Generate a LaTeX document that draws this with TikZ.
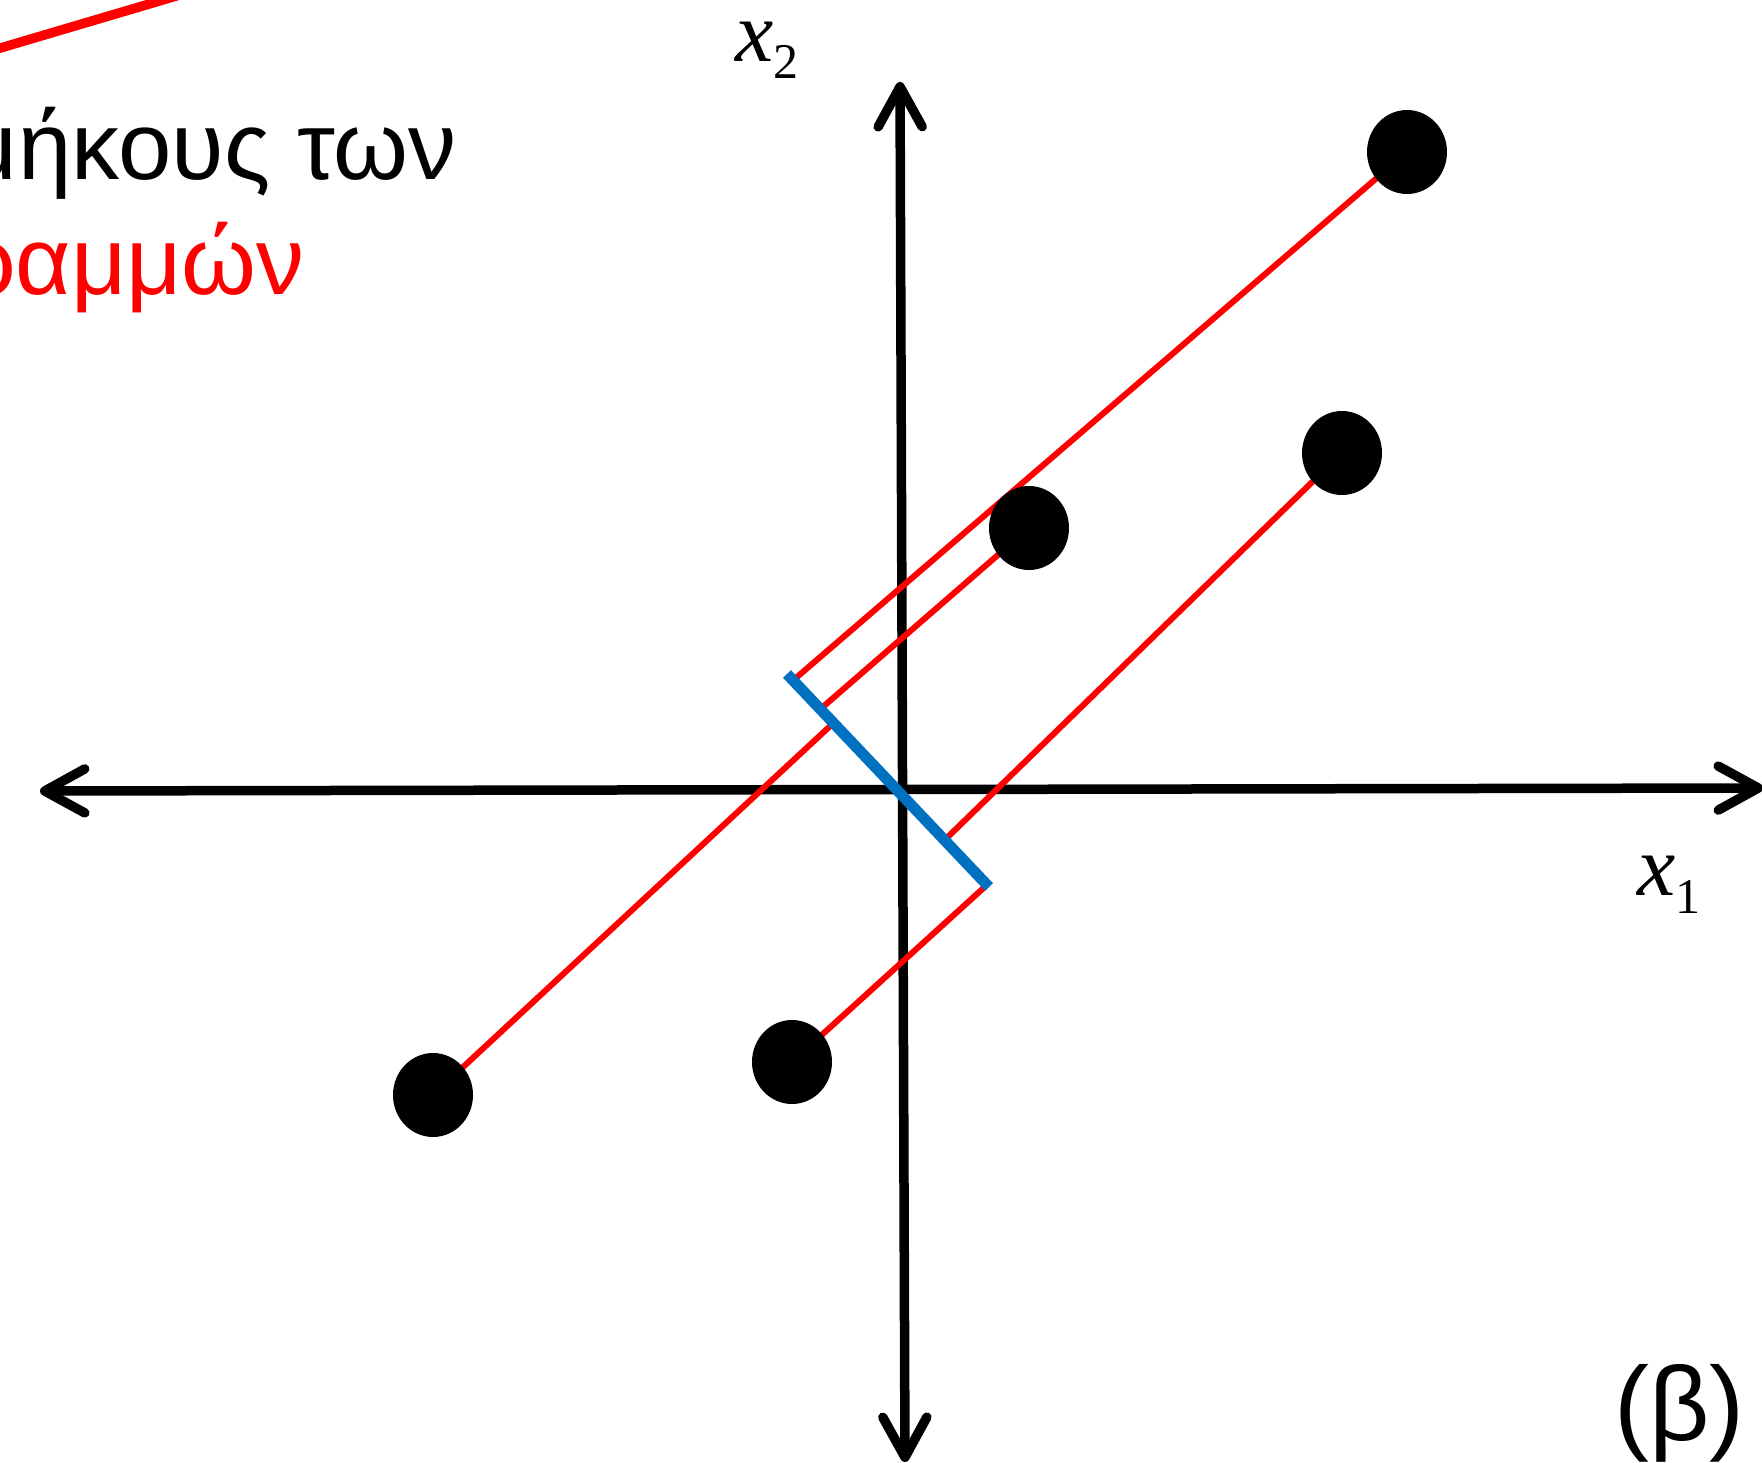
\documentclass[tikz,border=0pt]{standalone}
\usepackage{fontspec}
\setmainfont{Liberation Sans}
\newfontfamily\mathlike{Liberation Serif}
\usetikzlibrary{arrows.meta,calc,shapes.geometric}
\definecolor{myred}{RGB}{255,0,0}
\definecolor{myblue}{RGB}{0,112,192}
\begin{document}
\begin{tikzpicture}[x=1pt,y=-1pt,
  axisline/.style={line width=9.5pt, black,
    {Straight Barb[length=40pt,width=44pt,round]}-{Straight Barb[length=40pt,width=44pt,round]}},
  redline/.style={line width=6pt, myred},
  blueline/.style={line width=11pt, myblue},
  dot/.style={ellipse, fill=black, minimum width=80pt, minimum height=84pt, inner sep=0pt},
  lbl/.style={inner sep=0pt, font=\fontsize{96}{110}\selectfont},
  mlbl/.style={inner sep=0pt, anchor=base west, text height=40pt}
]
\useasboundingbox (0,0) rectangle (1762,1463);

% axes
\coordinate (L) at (40,791);
\coordinate (R) at (1763,788);
\coordinate (T) at (900,82);
\coordinate (B) at (905,1462);
\draw[axisline] (L) -- (R);
\draw[axisline] (B) -- (T);

% cut-off red line at top left
\coordinate (s1) at (-30,57);
\coordinate (s2) at (200,-11);
\draw[line width=9.5pt, myred] (s1) -- (s2);

% blue projection line
\coordinate (P) at (787,674);
\coordinate (Q) at (989,887);
\coordinate (pa) at ($(P)!0.03!(Q)$);
\coordinate (pb) at ($(P)!0.165!(Q)$);
\coordinate (pc) at ($(P)!0.23!(Q)$);
\coordinate (pd) at ($(P)!0.78!(Q)$);
\coordinate (pe) at ($(P)!0.99!(Q)$);

% data points
\coordinate (c1) at (1407,152);
\coordinate (c2) at (1342,453);
\coordinate (c3) at (1029,528);
\coordinate (c4) at (433,1095);
\coordinate (c5) at (792,1062);

\draw[redline] (c1) -- (pa);
\draw[redline] (c3) -- (pb);
\draw[redline] (c4) -- (pc);
\draw[redline] (c2) -- (pd);
\draw[redline] (c5) -- (pe);

\draw[blueline] (P) -- (Q);

\node[dot] (d1) at (c1) {};
\node[dot] (d2) at (c2) {};
\node[dot] (d3) at (c3) {};
\node[dot] (d4) at (c4) {};
\node[dot] (d5) at (c5) {};

% texts
\node[lbl, anchor=base east] (t1) at (457,180) {μήκους των};
\node[lbl, anchor=base east, text=myred] (t2) at (305,295) {ραμμών};
\node[lbl, anchor=base west, font=\fontsize{105}{110}\selectfont] (beta) at (1614,1440) {(β)};

\node[mlbl] (x2) at (735,62) {\mathlike\fontsize{86}{86}\selectfont\itshape x\upshape\raisebox{-17pt}{\fontsize{50}{50}\selectfont 2}};
\node[mlbl] (x1) at (1637,895) {\mathlike\fontsize{86}{86}\selectfont\itshape x\upshape\raisebox{-18pt}{\fontsize{50}{50}\selectfont 1}};
\end{tikzpicture}
\end{document}
